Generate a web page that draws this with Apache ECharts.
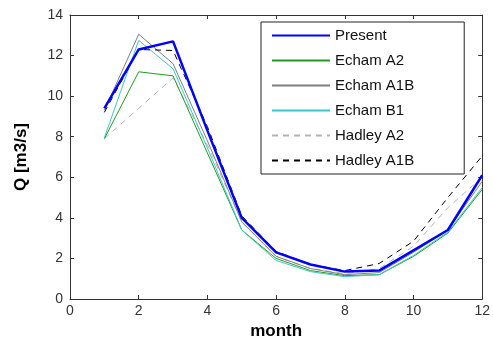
<!DOCTYPE html>
<html>
<head>
<meta charset="utf-8">
<script src="https://cdn.jsdelivr.net/npm/echarts@6/dist/echarts.min.js"></script>
<style>html,body{margin:0;padding:0;background:#fff}#c{width:493px;height:350px}</style>
</head>
<body>
<div id="c"></div>
<script>
const months = [1, 2, 3, 4, 5, 6, 7, 8, 9, 10, 11, 12];
const present   = [9.4, 12.3, 12.7, 8.3, 4.0, 2.3, 1.7, 1.35, 1.4, 2.4, 3.4, 6.1];
const echamA2   = [7.9, 11.2, 11.0, 7.2, 3.4, 2.0, 1.4, 1.15, 1.2, 2.1, 3.25, 5.4];
const echamA1B  = [9.3, 13.05, 11.6, 7.8, 3.8, 2.1, 1.5, 1.2, 1.3, 2.3, 3.4, 5.8];
const echamB1   = [7.95, 12.75, 11.35, 7.45, 3.4, 1.9, 1.35, 1.1, 1.2, 2.15, 3.3, 5.5];
const hadleyA2  = [7.9, 9.4, 10.9, 7.6, 3.8, 2.1, 1.5, 1.25, 1.5, 2.6, 4.5, 6.0];
const hadleyA1B = [9.2, 12.3, 12.25, 8.5, 4.1, 2.35, 1.7, 1.4, 1.75, 2.85, 5.0, 7.05];
const xTicks = [0, 2, 4, 6, 8, 10, 12];
const yTicks = [0, 2, 4, 6, 8, 10, 12, 14];

const pairs = v => months.map((m, i) => [m, v[i]]);
const font = '"Liberation Sans", Arial, sans-serif';
const axisCol = '#333';

function mk(name, vals, color, width, type, z) {
  return {
    name: name, type: 'line', data: pairs(vals), symbol: 'none', z: z,
    lineStyle: { color: color, width: width, type: type },
    itemStyle: { color: color }
  };
}

const chart = echarts.init(document.getElementById('c'), null, { renderer: 'canvas' });
chart.setOption({
  animation: false,
  backgroundColor: '#fff',
  grid: { left: 70, top: 15, width: 415, height: 284, containLabel: false },
  legend: {
    left: 261, top: 22, orient: 'vertical',
    backgroundColor: '#fff', borderColor: '#222', borderWidth: 1,
    padding: [6, 50, 6, 10], itemWidth: 58, itemHeight: 14, itemGap: 10,
    itemStyle: { opacity: 0 },
    textStyle: { fontFamily: font, fontSize: 15, lineHeight: 14, color: '#111' },
    data: ['Present', 'Echam A2', 'Echam A1B', 'Echam B1', 'Hadley A2', 'Hadley A1B']
  },
  xAxis: [{
    type: 'value', min: 0, max: 12, interval: 2,
    name: 'month', nameLocation: 'middle', nameGap: 22,
    nameTextStyle: { fontFamily: font, fontSize: 17, fontWeight: 'bold', color: '#000' },
    axisLine: { show: true, lineStyle: { color: axisCol, width: 1 } },
    axisTick: { show: true, inside: true, length: 4, lineStyle: { color: axisCol } },
    axisLabel: { fontFamily: font, fontSize: 14, color: '#333', margin: 5 },
    splitLine: { show: false }
  }, {
    type: 'value', position: 'top', min: 0, max: 12, interval: 2,
    axisLine: { show: true, onZero: false, lineStyle: { color: axisCol, width: 1 } },
    axisTick: { show: true, inside: true, length: 4, lineStyle: { color: axisCol } },
    axisLabel: { show: false }, splitLine: { show: false }
  }],
  yAxis: [{
    type: 'value', min: 0, max: 14, interval: 2,
    name: 'Q [m3/s]', nameLocation: 'middle', nameGap: 40, nameRotate: 90,
    nameTextStyle: { fontFamily: font, fontSize: 17, fontWeight: 'bold', color: '#000' },
    axisLine: { show: true, lineStyle: { color: axisCol, width: 1 } },
    axisTick: { show: true, inside: true, length: 4, lineStyle: { color: axisCol } },
    axisLabel: { fontFamily: font, fontSize: 14, color: '#333', margin: 7 },
    splitLine: { show: false }
  }, {
    type: 'value', position: 'right', min: 0, max: 14, interval: 2,
    axisLine: { show: true, onZero: false, lineStyle: { color: axisCol, width: 1 } },
    axisTick: { show: true, inside: true, length: 4, lineStyle: { color: axisCol } },
    axisLabel: { show: false }, splitLine: { show: false }
  }],
  series: [
    mk('Hadley A2', hadleyA2, '#b4b4b4', 1, [6, 5], 2),
    mk('Echam A2', echamA2, '#239b23', 1, 'solid', 3),
    mk('Echam B1', echamB1, '#3cc8c8', 1, 'solid', 4),
    mk('Echam A1B', echamA1B, '#7f7f7f', 1, 'solid', 5),
    mk('Hadley A1B', hadleyA1B, '#000000', 1, [6, 5], 6),
    mk('Present', present, '#0000ff', 2.5, 'solid', 7)
  ]
});
</script>
</body>
</html>
